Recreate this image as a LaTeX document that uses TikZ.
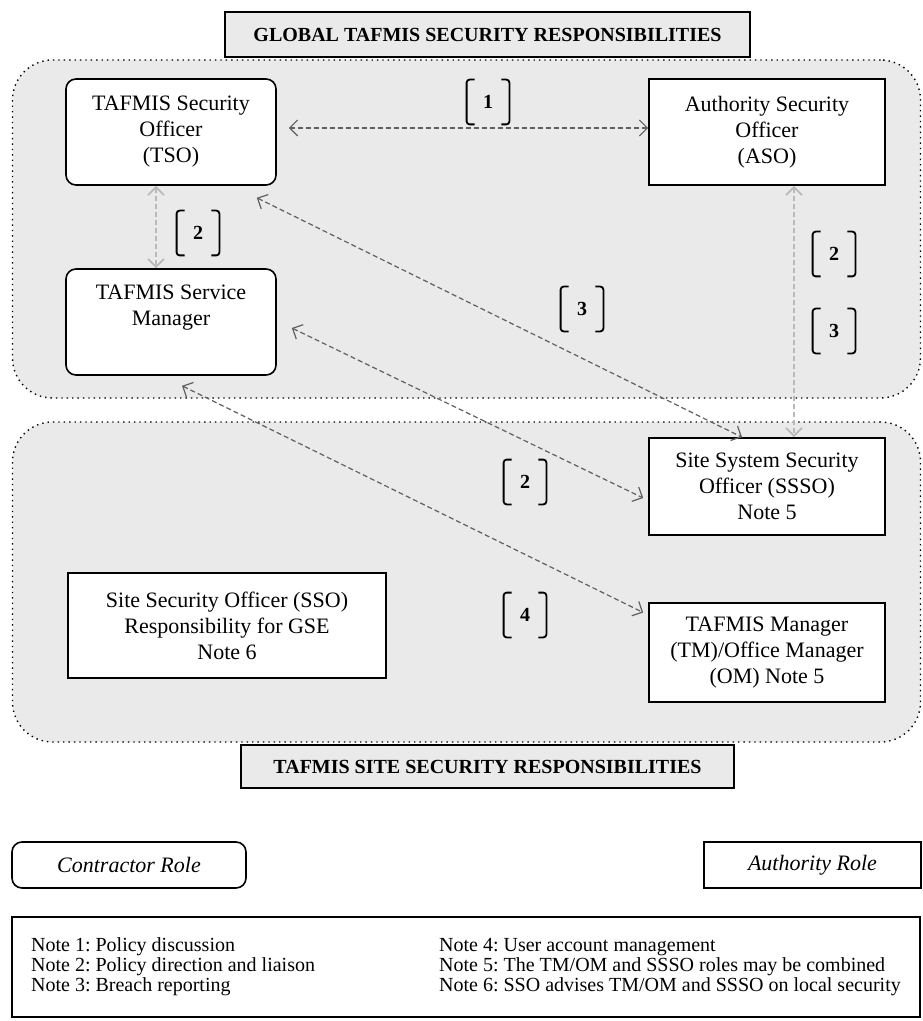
\documentclass[tikz,border=0pt]{standalone}
\usepackage{fontspec}
\setmainfont{Liberation Serif}
\usepackage{xcolor}
\usepackage{tikz}
\usetikzlibrary{positioning,arrows.meta}
\definecolor{regiongray}{RGB}{234,234,234}
\frenchspacing

\newcommand{\notetag}[3]{%
  \node[tagnum] (#1) at (#2) {#3};
  \draw[bracket] ([xshift=4pt]#1.north west) -- (#1.north west) -- (#1.south west) -- ([xshift=4pt]#1.south west);
  \draw[bracket] ([xshift=-4pt]#1.north east) -- (#1.north east) -- (#1.south east) -- ([xshift=-4pt]#1.south east);}

\begin{document}
\begin{tikzpicture}[x=0.5pt, y=-0.5pt, every node/.style={font=\fontsize{11}{13}\selectfont},
  region/.style={draw, dotted, line width=0.7pt, fill=regiongray, rounded corners=20pt, minimum width=454pt},
  titlebox/.style={draw, line width=0.9pt, fill=regiongray, font=\fontsize{10}{11}\selectfont\bfseries},
  role/.style={draw, line width=0.8pt, fill=white, align=center, inner sep=2pt},
  contractor/.style={role, rounded corners=5pt},
  tagnum/.style={minimum width=21pt, minimum height=22pt, inner sep=0pt, font=\fontsize{10}{10}\selectfont\bfseries},
  bracket/.style={line width=0.9pt, rounded corners=1.5pt},
  link/.style={<->, >={Straight Barb[length=4pt,width=8pt]}, dash pattern=on 2.5pt off 1.5pt, gray!75!black, line width=0.6pt},
  lightlink/.style={link, gray!55, line width=0.9pt}]
  \useasboundingbox (0,0) rectangle (922,1021);

  \node[region, minimum height=169pt] (global) at (466.5,229) {};
  \node[region, minimum height=160pt] (site) at (466.5,582) {};
  \node[titlebox, minimum width=262.5pt, minimum height=22.5pt] (gtitle) at (487.5,34.5) {GLOBAL TAFMIS SECURITY RESPONSIBILITIES};
  \node[titlebox, minimum width=246.5pt, minimum height=21.5pt] (stitle) at (487.5,766.5) {TAFMIS SITE SECURITY RESPONSIBILITIES};

  \node[contractor, minimum width=105pt, minimum height=53pt] (tso) at (171,132) {TAFMIS Security\\Officer\\(TSO)};
  \node[role, minimum width=118pt, minimum height=53pt] (aso) at (767,132) {Authority Security\\Officer\\(ASO)};
  \node[contractor, minimum width=105pt, minimum height=53pt] (sm) at (171,322) {TAFMIS Service\\Manager\\\strut};
  \node[role, minimum width=118pt, minimum height=48.5pt] (ssso) at (767,486.5) {Site System Security\\Officer (SSSO)\\Note 5};
  \node[role, minimum width=118pt, minimum height=49.5pt] (tm) at (767,652.5) {TAFMIS Manager\\(TM)/Office Manager\\(OM) Note 5};
  \node[role, minimum width=159pt, minimum height=52.5pt] (sso) at (227,625.5) {Site Security Officer (SSO)\\Responsibility for GSE\\Note 6};

  \notetag{t1}{488,102}{1}
  \notetag{t2a}{198,233}{2}
  \notetag{t3a}{582,309}{3}
  \notetag{t2b}{834,254}{2}
  \notetag{t3b}{834,331}{3}
  \notetag{t2c}{525,482}{2}
  \notetag{t4}{525,615}{4}

  \draw[link] ([shift={(6pt,2pt)}]tso.east) -- ([yshift=2pt]aso.west);
  \draw[lightlink] ([xshift=-7.5pt]tso.south) -- ([xshift=-7.5pt]sm.north);
  \draw[lightlink] ([xshift=13.5pt]aso.south) -- ([xshift=13.5pt]ssso.north);
  \draw[link] ([shift={(-10pt,-6pt)}]tso.south east) -- ([xshift=-12.5pt]ssso.north);
  \draw[link] ([shift={(7.5pt,-3pt)}]sm.east) -- ([shift={(-2.5pt,-5.75pt)}]ssso.west);
  \draw[link] ([shift={(5.5pt,-5pt)}]sm.south) -- ([shift={(-2.5pt,20pt)}]tm.west);

  \node[contractor, minimum width=117pt, minimum height=23pt, font=\fontsize{11}{13}\selectfont\itshape] (crole) at (129,865) {Contractor Role};
  \node[role, minimum width=108.5pt, minimum height=23pt, font=\fontsize{11}{13}\selectfont\itshape] (arole) at (812.5,865) {Authority Role};

  \node[draw, line width=1pt, minimum width=454pt, minimum height=50pt, inner sep=0pt, font=\fontsize{10}{10}\selectfont] (notes) at (466,967) {%
    \begin{tabular}{@{}p{204pt}@{}l@{}}
      Note 1: Policy discussion & Note 4: User account management\\
      Note 2: Policy direction and liaison & Note 5: The TM/OM and SSSO roles may be combined\\
      Note 3: Breach reporting & Note 6: SSO advises TM/OM and SSSO on local security
    \end{tabular}};
\end{tikzpicture}
\end{document}
